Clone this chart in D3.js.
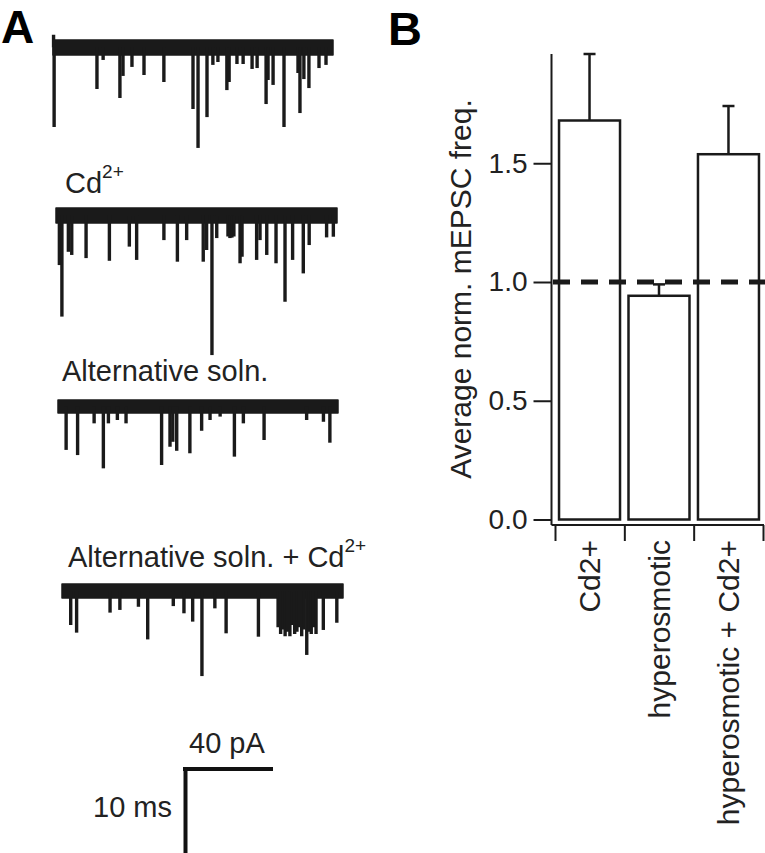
<!DOCTYPE html>
<html>
<head>
<meta charset="utf-8">
<script src="https://cdn.jsdelivr.net/npm/d3@7"></script>
<style>
  body { margin: 0; background: #fff; }
  svg { display: block; font-family: "Liberation Sans", Arial, Helvetica, sans-serif; }
</style>
</head>
<body>
<svg id="fig" width="765" height="853"></svg>
<script>
// ---- panel B: bar chart ----
var categories = ["Cd2+", "hyperosmotic", "hyperosmotic + Cd2+"];
var means = [1.68, 0.942, 1.538];
var sems = [0.28, 0.048, 0.203];
var yTicks = [0, 0.5, 1.0, 1.5];
var refLine = 1.0;

// ---- panel A: mEPSC traces (spike time in % of sweep, amplitude in pA) ----
var trace1T = [0.2, 0.4, 15.7, 17.9, 23.9, 25.0, 28.2, 32.5, 39.6, 50.0, 51.8, 55.0, 57.1, 58.9, 62.1, 62.9, 65.7, 67.9, 71.1, 72.9, 76.1, 76.8, 78.6, 82.5, 87.5, 88.2, 89.6, 91.4, 95.0, 97.5];
var trace1A = [-9, 32, 15.1, 2.2, 19.1, 9.3, 5.3, 8.9, 12, 24, 41.3, 27.6, 4.4, 3.1, 15.6, 12, 4, 4, 6.2, 5.8, 21.8, 11.1, 13.3, 32, 8, 25.8, 10.7, 14.7, 5.8, 4.4];

var trace2T = [1.2, 2.1, 4.4, 5.6, 10.7, 19.0, 26.1, 28.7, 38.4, 43.2, 46.5, 52.4, 53.6, 55.5, 57.2, 61.2, 61.9, 62.6, 63.3, 65.5, 66.2, 71.4, 72.6, 75.0, 78.3, 81.5, 84.2, 88.0, 90.1, 96.3, 98.7];
var trace2A = [18.7, 41.6, 12.8, 14.2, 15.6, 16.8, 10.5, 16.4, 7.6, 17.2, 7.6, 17.2, 12, 58.7, 6.7, 6, 6.7, 6.5, 6, 17.9, 15, 16.4, 7.6, 14.2, 17.9, 35, 16.4, 22.4, 9.8, 6.4, 6.1];

var trace3T = [2.9, 7.0, 12.9, 16.2, 18.0, 21.2, 24.3, 37.0, 40.0, 41.0, 42.4, 47.1, 51.3, 54.3, 57.9, 63.0, 66.2, 73.6, 88.8, 94.8, 97.1];
var trace3A = [16.4, 18.7, 4.6, 24.6, 4.6, 3.1, 4.6, 23.1, 15, 12.8, 16.8, 17.9, 7.9, 3.1, 1.6, 19.4, 4.6, 12, 3.1, 3.9, 13.2];

var trace4T = [3.1, 5.2, 17.1, 20.6, 27.2, 30.5, 39.6, 43.4, 46.5, 49.8, 54.4, 58.4, 69.9, 76.9, 77.8, 78.6, 79.4, 80.3, 81.1, 82.0, 82.8, 83.6, 84.5, 85.3, 86.1, 87.1, 87.9, 88.7, 89.5, 90.4, 93.0, 97.8];
var trace4A = [12, 15.4, 6.5, 5.3, 3.9, 18.4, 3.6, 6.8, 10.5, 34.7, 4.6, 15.7, 17.2, 13, 16, 14, 17, 15, 17, 12, 16, 15, 13, 17, 14, 25.3, 15, 16, 13, 16, 14.2, 11];

var bandNoise = [6.7, 6.7, 5.8, 6.2];
var traceNames = ["", "Cd", "Alternative soln.", "Alternative soln. + Cd"];
var traceSup = ["", "2+", "", "2+"];
var scaleBarPA = 40, scaleBarMS = 10;

var svg = d3.select("#fig");
var fontMain = 29;

// ================= Panel A =================
svg.append("text").attr("x", 1).attr("y", 43)
    .style("font-weight", "bold").style("font-size", "46px").text("A");

var traces = [
    {t: trace1T, a: trace1A, x0: 53, x1: 333, base: 55, lx: 0, ly: 0},
    {t: trace2T, a: trace2A, x0: 56, x1: 337, base: 223, lx: 65, ly: 193},
    {t: trace3T, a: trace3A, x0: 58, x1: 338, base: 413, lx: 62, ly: 381},
    {t: trace4T, a: trace4A, x0: 62, x1: 343, base: 598, lx: 68, ly: 567}
];

var pxPerPA = 2.25;

traces.forEach(function(tr, i) {
    var x = d3.scaleLinear().domain([0, 100]).range([tr.x0, tr.x1]);
    var y = d3.scaleLinear().domain([0, 40]).range([tr.base, tr.base + 40 * pxPerPA]);
    var g = svg.append("g");

    // noisy baseline band
    var band = d3.area()
        .x(function(d) { return x(d); })
        .y0(y(0))
        .y1(y(-bandNoise[i]));
    g.append("path").datum([0, 100]).attr("d", band)
        .attr("fill", "#1a1a1a").attr("stroke", "#1a1a1a").attr("stroke-width", 1.5)
        .attr("stroke-linejoin", "round");

    // events
    var spikes = tr.t.map(function(t, k) { return {t: t, a: tr.a[k]}; });
    g.selectAll("line.spike").data(spikes).enter().append("line")
        .attr("class", "spike")
        .attr("x1", function(d) { return x(d.t); })
        .attr("x2", function(d) { return x(d.t); })
        .attr("y1", y(-bandNoise[i] / 2))
        .attr("y2", function(d) { return y(d.a); })
        .attr("stroke", "#1a1a1a")
        .attr("stroke-width", 3.4);

    if (traceNames[i]) {
        var lab = svg.append("text").attr("x", tr.lx).attr("y", tr.ly)
            .style("font-size", fontMain + "px").attr("fill", "#222");
        lab.append("tspan").text(traceNames[i]);
        if (traceSup[i]) {
            lab.append("tspan").attr("dy", -15).style("font-size", "19px").text(traceSup[i]);
        }
    }
});

// scale bar
var paScale = d3.scaleLinear().domain([0, scaleBarPA]).range([183, 183 + scaleBarPA * pxPerPA]);
var msScale = d3.scaleLinear().domain([0, scaleBarMS]).range([769, 860]);
var sb = svg.append("g").attr("stroke", "#111").attr("stroke-width", 4).attr("fill", "none");
sb.append("line").attr("x1", paScale(0)).attr("x2", paScale(scaleBarPA)).attr("y1", 769).attr("y2", 769);
sb.append("line").attr("x1", 185.5).attr("x2", 185.5).attr("y1", msScale(0) - 2).attr("y2", msScale(scaleBarMS));
svg.append("text").attr("x", 189).attr("y", 753).style("font-size", fontMain + "px")
    .attr("fill", "#222").text(scaleBarPA + " pA");
svg.append("text").attr("x", 172).attr("y", 817).attr("text-anchor", "end")
    .style("font-size", fontMain + "px").attr("fill", "#222").text(scaleBarMS + " ms");

// ================= Panel B =================
svg.append("text").attr("x", 388).attr("y", 45)
    .style("font-weight", "bold").style("font-size", "47px").text("B");

var axisX = 551.5, baseY = 525;
var y = d3.scaleLinear().domain([0, 1.96]).range([519.5, 54]);
var x = d3.scaleBand().domain(categories).range([555, 763])
    .paddingInner(0.122).paddingOuter(0.058);

// bars
svg.append("g").selectAll("rect").data(categories).enter().append("rect")
    .attr("x", function(d) { return x(d); })
    .attr("width", x.bandwidth())
    .attr("y", function(d, i) { return y(means[i]); })
    .attr("height", function(d, i) { return y(0) - y(means[i]); })
    .attr("fill", "#fff").attr("stroke", "#1a1a1a").attr("stroke-width", 2.5);

// error bars
var eb = svg.append("g").attr("stroke", "#1a1a1a").attr("stroke-width", 2.5);
categories.forEach(function(c, i) {
    var cx = x(c) + x.bandwidth() / 2;
    eb.append("line").attr("x1", cx).attr("x2", cx)
        .attr("y1", y(means[i])).attr("y2", y(means[i] + sems[i]));
    eb.append("line").attr("x1", cx - 6).attr("x2", cx + 6)
        .attr("y1", y(means[i] + sems[i])).attr("y2", y(means[i] + sems[i]));
});

// reference line at 1.0
svg.append("line").attr("x1", 553).attr("x2", 765)
    .attr("y1", y(refLine)).attr("y2", y(refLine))
    .attr("stroke", "#1a1a1a").attr("stroke-width", 5)
    .attr("stroke-dasharray", "17,11");

// y axis
var yAxis = svg.append("g").attr("transform", "translate(" + axisX + ",0)")
    .call(d3.axisLeft(y).tickValues(yTicks).tickSize(18).tickPadding(6)
        .tickFormat(d3.format(".1f")));
yAxis.select(".domain").remove();
yAxis.selectAll(".tick line").attr("stroke", "#1a1a1a").attr("stroke-width", 2);
yAxis.selectAll(".tick text").style("font-size", "28px").attr("fill", "#222")
    .attr("font-family", null);
svg.append("line").attr("x1", axisX).attr("x2", axisX).attr("y1", y(1.96)).attr("y2", baseY)
    .attr("stroke", "#1a1a1a").attr("stroke-width", 2);

// x axis: ticks at category boundaries
var xb = d3.scaleLinear().domain([0, categories.length]).range([555, 763]);
var xAxis = svg.append("g").attr("transform", "translate(0," + baseY + ")")
    .call(d3.axisBottom(xb).tickValues(d3.range(categories.length + 1)).tickSize(16).tickFormat(""));
xAxis.select(".domain").remove();
xAxis.selectAll(".tick line").attr("stroke", "#1a1a1a").attr("stroke-width", 2);
svg.append("line").attr("x1", axisX).attr("x2", 764).attr("y1", baseY).attr("y2", baseY)
    .attr("stroke", "#1a1a1a").attr("stroke-width", 2);

// category labels
svg.append("g").selectAll("text").data(categories).enter().append("text")
    .attr("transform", function(d) {
        return "translate(" + (x(d) + x.bandwidth() / 2) + ",540) rotate(-90)";
    })
    .attr("dy", "0.35em")
    .attr("text-anchor", "end")
    .style("font-size", "30px").attr("fill", "#222")
    .text(function(d) { return d; });

// y label
svg.append("text").attr("transform", "translate(471,289) rotate(-90)")
    .attr("text-anchor", "middle")
    .style("font-size", "30px").attr("fill", "#222")
    .text("Average norm. mEPSC freq.");
</script>
</body>
</html>
